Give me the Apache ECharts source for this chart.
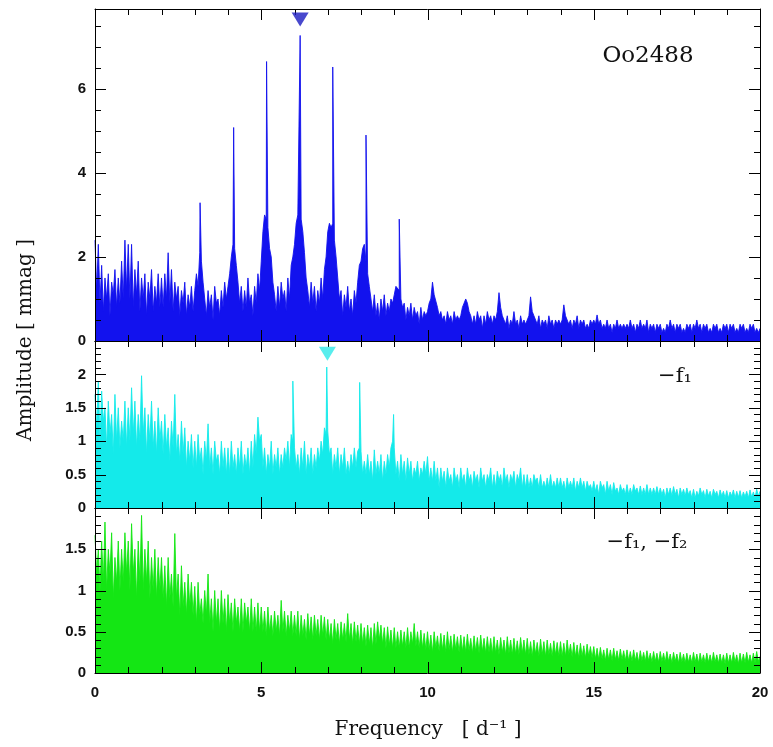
<!DOCTYPE html>
<html>
<head>
<meta charset="utf-8">
<script src="https://cdn.jsdelivr.net/npm/echarts@6.0.0/dist/echarts.min.js"></script>
<style>
html,body{margin:0;padding:0;background:#fff;}
#chart{width:773px;height:747px;}
</style>
</head>
<body>
<div id="chart"></div>
<script>
const topAmp = [
2.4,1.2,2.3,0.9,1.8,0.7,1.5,1.0,1.6,0.6,1.4,1.1,1.7,0.8,1.5,0.9,1.9,1.0,2.4,1.2,
2.3,1.0,2.3,0.8,1.7,1.1,1.9,0.7,1.5,1.0,1.6,0.6,1.4,1.0,1.7,0.7,1.3,0.9,1.6,0.8,
1.5,0.8,1.6,1.0,2.1,0.9,1.7,0.7,1.4,1.0,1.3,0.6,1.2,0.9,1.4,0.6,1.1,0.8,1.3,0.7,
1.2,1.6,1.3,2.1,1.9,1.4,1.0,0.6,1.2,0.8,1.1,0.5,1.3,0.9,1.0,0.6,1.2,0.8,1.4,1.0,
1.3,1.6,2.0,2.3,2.2,1.8,1.4,0.9,1.3,0.7,1.2,0.8,1.5,0.9,1.1,0.6,1.3,0.9,1.6,1.2,
1.9,2.6,3.0,2.9,2.7,2.2,2.0,1.4,1.1,0.7,1.3,0.8,1.4,1.0,1.2,0.7,1.5,1.0,1.8,2.0,
2.3,2.8,3.0,3.0,2.9,2.6,2.1,1.5,1.2,0.8,1.4,0.9,1.3,0.7,1.2,0.9,1.5,1.0,1.7,2.0,
2.6,2.8,2.7,2.8,2.4,2.0,1.5,1.0,1.2,0.6,1.1,0.8,1.3,0.7,1.0,0.6,1.2,0.9,1.4,1.8,
1.9,2.2,2.3,1.9,1.6,1.3,1.0,0.7,1.1,0.6,0.9,0.5,1.0,0.7,1.1,0.6,0.9,0.7,1.0,0.9,
1.1,1.3,1.3,1.2,1.0,0.8,0.9,0.5,0.8,0.6,0.9,0.5,0.8,0.6,0.7,0.4,0.8,0.5,0.7,0.6,
0.7,0.9,1.0,1.4,1.1,1.1,0.8,0.6,0.7,0.5,0.6,0.4,0.7,0.5,0.6,0.4,0.7,0.5,0.6,0.5,
0.6,0.8,0.9,1.0,0.9,0.7,0.6,0.4,0.6,0.4,0.7,0.5,0.6,0.3,0.6,0.4,0.7,0.5,0.6,0.4,
0.6,0.5,0.7,1.15,0.8,0.6,0.5,0.4,0.6,0.3,0.5,0.4,0.7,0.4,0.5,0.3,0.6,0.4,0.5,0.4,
0.5,0.6,1.05,0.7,0.6,0.5,0.4,0.6,0.3,0.5,0.4,0.5,0.3,0.6,0.4,0.5,0.3,0.5,0.4,0.5,
0.4,0.5,0.86,0.6,0.5,0.4,0.5,0.3,0.5,0.4,0.6,0.3,0.5,0.4,0.5,0.3,0.4,0.3,0.5,0.4,
0.5,0.4,0.62,0.4,0.5,0.3,0.4,0.3,0.5,0.3,0.4,0.2,0.4,0.3,0.5,0.3,0.4,0.3,0.4,0.3,
0.4,0.3,0.5,0.3,0.4,0.2,0.4,0.3,0.5,0.3,0.4,0.3,0.5,0.2,0.4,0.3,0.4,0.2,0.4,0.3,
0.4,0.2,0.3,0.2,0.4,0.3,0.5,0.3,0.4,0.2,0.4,0.3,0.4,0.2,0.3,0.2,0.4,0.3,0.4,0.2,
0.4,0.3,0.5,0.3,0.4,0.2,0.4,0.3,0.4,0.2,0.3,0.2,0.4,0.3,0.4,0.2,0.3,0.2,0.4,0.3,
0.4,0.2,0.4,0.3,0.4,0.2,0.3,0.2,0.4,0.3,0.4,0.2,0.3,0.2,0.4,0.3,0.4,0.2,0.3,0.2,
0.3
];
const topPeakF = [3.16, 4.17, 5.16, 6.17, 7.15, 8.15, 9.15];
const topPeakA = [3.29, 5.08, 6.65, 7.27, 6.52, 4.90, 2.90];

const midAmp = [
1.7,1.2,1.9,1.0,1.75,1.3,1.5,0.9,1.6,1.1,1.4,0.8,1.7,1.0,1.5,0.9,1.3,1.0,1.6,0.9,
1.5,1.0,1.8,1.1,1.6,0.9,1.4,1.0,1.98,1.1,1.5,0.8,1.4,1.0,1.6,0.9,1.3,0.8,1.5,1.0,
1.3,0.8,1.4,0.9,1.2,0.7,1.3,0.9,1.7,0.8,1.1,0.7,1.3,0.8,1.2,0.6,1.0,0.7,1.1,0.6,
1.0,0.6,1.1,0.7,0.9,0.5,1.0,0.7,1.26,0.6,0.9,0.5,1.0,0.7,0.8,0.5,1.0,0.6,0.9,0.5,
0.9,0.5,1.0,0.6,0.8,0.5,0.9,0.6,1.0,0.5,0.8,0.6,0.9,0.5,1.0,0.6,1.1,0.8,1.36,1.0,
1.1,0.6,0.9,0.5,0.8,0.6,1.0,0.5,0.8,0.6,0.9,0.5,0.8,0.6,0.9,0.7,1.0,0.6,1.1,1.0,
0.9,0.6,0.8,0.5,0.9,0.6,1.0,0.5,0.8,0.6,0.9,0.5,0.8,0.6,0.9,0.7,1.0,0.8,1.2,1.1,
1.15,0.8,0.9,0.5,0.8,0.6,0.9,0.5,0.8,0.6,0.9,0.5,0.7,0.5,0.8,0.6,0.9,0.6,0.85,0.9,
0.85,0.5,0.7,0.5,0.8,0.5,0.7,0.4,0.87,0.5,0.7,0.5,0.8,0.4,0.7,0.5,0.8,0.6,0.9,1.0,
0.9,0.5,0.7,0.4,0.8,0.5,0.7,0.4,0.75,0.5,0.7,0.4,0.6,0.5,0.7,0.4,0.6,0.5,0.7,0.5,
0.77,0.4,0.6,0.4,0.7,0.4,0.6,0.3,0.6,0.4,0.55,0.3,0.6,0.4,0.5,0.3,0.6,0.4,0.5,0.3,
0.6,0.4,0.5,0.3,0.6,0.4,0.5,0.3,0.55,0.4,0.5,0.3,0.6,0.4,0.5,0.3,0.5,0.4,0.6,0.3,
0.5,0.3,0.55,0.4,0.5,0.3,0.6,0.4,0.5,0.3,0.5,0.4,0.55,0.3,0.5,0.4,0.6,0.3,0.5,0.3,
0.5,0.3,0.45,0.3,0.5,0.4,0.45,0.3,0.5,0.3,0.4,0.3,0.45,0.3,0.5,0.3,0.4,0.3,0.45,0.3,
0.45,0.3,0.4,0.25,0.45,0.3,0.4,0.3,0.45,0.25,0.4,0.3,0.45,0.3,0.4,0.25,0.4,0.3,0.35,0.25,
0.4,0.25,0.35,0.2,0.4,0.3,0.35,0.2,0.4,0.25,0.35,0.2,0.38,0.25,0.3,0.2,0.35,0.25,0.3,0.2,
0.35,0.2,0.3,0.2,0.35,0.25,0.3,0.2,0.33,0.2,0.3,0.2,0.35,0.2,0.3,0.2,0.3,0.2,0.32,0.2,
0.3,0.2,0.28,0.15,0.3,0.2,0.3,0.18,0.32,0.2,0.28,0.15,0.3,0.2,0.28,0.18,0.3,0.2,0.26,0.15,
0.28,0.15,0.25,0.18,0.3,0.2,0.26,0.15,0.28,0.18,0.25,0.15,0.28,0.2,0.25,0.15,0.27,0.18,0.25,0.15,
0.26,0.15,0.24,0.18,0.27,0.15,0.25,0.16,0.26,0.15,0.24,0.17,0.25,0.15,0.27,0.16,0.24,0.15,0.28,0.18,
0.25
];
const midPeakF = [5.95, 6.97, 7.96, 8.98];
const midPeakA = [1.90, 2.11, 1.88, 1.40];

const botAmp = [
1.67,1.2,1.5,1.0,1.6,1.1,1.83,1.0,1.5,1.2,1.7,0.9,1.4,1.1,1.6,1.0,1.5,1.1,1.7,1.2,
1.6,1.0,1.81,1.2,1.5,0.9,1.6,1.1,1.91,1.0,1.5,1.1,1.6,0.9,1.4,1.0,1.5,0.9,1.4,1.0,
1.4,0.9,1.3,0.8,1.4,0.9,1.2,0.8,1.69,0.9,1.2,0.7,1.3,0.8,1.1,0.7,1.2,0.8,1.1,0.7,
1.05,0.6,1.1,0.7,0.9,0.6,1.0,0.7,1.2,0.6,0.9,0.5,1.0,0.6,0.9,0.5,1.0,0.6,0.9,0.5,
0.95,0.6,0.85,0.5,0.9,0.6,0.8,0.5,0.9,0.5,0.85,0.6,0.8,0.5,0.9,0.5,0.8,0.5,0.85,0.5,
0.8,0.5,0.75,0.45,0.8,0.5,0.7,0.45,0.75,0.5,0.7,0.45,0.88,0.5,0.75,0.45,0.7,0.5,0.75,0.45,
0.7,0.45,0.75,0.4,0.7,0.45,0.65,0.4,0.72,0.45,0.68,0.4,0.7,0.45,0.65,0.4,0.7,0.45,0.68,0.4,
0.65,0.4,0.6,0.35,0.65,0.4,0.6,0.35,0.62,0.4,0.6,0.38,0.72,0.4,0.6,0.35,0.62,0.38,0.58,0.35,
0.6,0.35,0.55,0.32,0.58,0.35,0.55,0.3,0.6,0.35,0.62,0.4,0.58,0.35,0.55,0.3,0.56,0.33,0.52,0.3,
0.55,0.3,0.5,0.3,0.52,0.32,0.5,0.3,0.55,0.3,0.5,0.35,0.6,0.32,0.5,0.3,0.52,0.3,0.48,0.28,
0.5,0.28,0.46,0.25,0.5,0.3,0.45,0.26,0.48,0.28,0.46,0.25,0.5,0.28,0.45,0.25,0.47,0.28,0.44,0.25,
0.46,0.26,0.44,0.25,0.47,0.27,0.42,0.24,0.45,0.26,0.43,0.24,0.46,0.26,0.42,0.24,0.44,0.25,0.42,0.23,
0.44,0.24,0.4,0.22,0.43,0.25,0.4,0.22,0.44,0.24,0.4,0.22,0.42,0.23,0.39,0.22,0.43,0.24,0.4,0.22,
0.42,0.22,0.38,0.2,0.4,0.23,0.37,0.2,0.41,0.22,0.38,0.2,0.4,0.22,0.36,0.2,0.39,0.22,0.37,0.2,
0.38,0.2,0.36,0.2,0.4,0.22,0.35,0.19,0.37,0.2,0.34,0.18,0.36,0.2,0.33,0.18,0.35,0.2,0.32,0.18,
0.32,0.17,0.3,0.16,0.31,0.17,0.28,0.15,0.3,0.16,0.28,0.15,0.3,0.16,0.27,0.15,0.29,0.16,0.27,0.15,
0.28,0.15,0.26,0.14,0.28,0.15,0.25,0.13,0.27,0.15,0.25,0.14,0.27,0.15,0.24,0.13,0.26,0.14,0.24,0.13,
0.26,0.14,0.24,0.13,0.26,0.14,0.23,0.12,0.25,0.14,0.23,0.12,0.25,0.13,0.23,0.12,0.24,0.13,0.22,0.12,
0.25,0.13,0.23,0.12,0.24,0.13,0.22,0.12,0.24,0.13,0.22,0.12,0.25,0.13,0.22,0.12,0.23,0.12,0.22,0.11,
0.24,0.12,0.22,0.12,0.25,0.13,0.22,0.11,0.24,0.12,0.23,0.12,0.25,0.13,0.22,0.12,0.24,0.12,0.26,0.14,
0.2
];
const botPeakF = [];
const botPeakA = [];

// Markers for the removed frequencies
const markerF = [6.17, 6.99];
const markerA = [7.65, 2.31];

// Axis settings
const freqRange = [0, 20];
const xInterval = 5;
const xMinorStep = 1;
const yMax = [7.9, 2.5, 2.0];
const yInterval = [2, 0.5, 0.5];
const yMinorSplit = [4, 5, 5];
const panelLabels = ['Oo2488', '−f₁', '−f₁, −f₂'];
const colors = ['#1212ee', '#14eaea', '#14e614'];

function build(amp, pf, pa) {
  const n = amp.length;
  const span = freqRange[1] - freqRange[0];
  const pts = amp.map((v, i) => [freqRange[0] + i * span / (n - 1), v]);
  pf.forEach((f, k) => pts.push([f, pa[k]]));
  pts.sort((a, b) => a[0] - b[0]);
  return pts;
}

// Tick positions (in axis units) for each panel: [dimension, value, isMajor]
function tickItems(i) {
  const items = [];
  const nx = Math.round((freqRange[1] - freqRange[0]) / xMinorStep);
  for (let k = 0; k <= nx; k++) {
    const v = freqRange[0] + k * xMinorStep;
    items.push([0, v, Math.abs(v / xInterval - Math.round(v / xInterval)) < 1e-6 ? 1 : 0]);
  }
  const ms = yInterval[i] / yMinorSplit[i];
  const ny = Math.floor(yMax[i] / ms + 1e-6);
  for (let k = 0; k <= ny; k++) {
    const v = +(k * ms).toFixed(4);
    items.push([1, v, Math.abs(v / yInterval[i] - Math.round(v / yInterval[i])) < 1e-6 ? 1 : 0]);
  }
  return items;
}

function tickRenderer(i) {
  return function (params, api) {
    const dim = api.value(0), v = api.value(1), major = api.value(2);
    const len = major ? 11 : 6;
    const st = {stroke: '#000', lineWidth: 1};
    if (dim === 0) {
      const pb = api.coord([v, 0]);
      const pt = api.coord([v, yMax[i]]);
      const x = Math.round(pb[0]) + 0.5;
      return {type: 'group', children: [
        {type: 'line', shape: {x1: x, y1: pb[1], x2: x, y2: pb[1] - len}, style: st},
        {type: 'line', shape: {x1: x, y1: pt[1], x2: x, y2: pt[1] + len}, style: st}
      ]};
    }
    const pl = api.coord([freqRange[0], v]);
    const pr = api.coord([freqRange[1], v]);
    const y = Math.round(pl[1]) + 0.5;
    return {type: 'group', children: [
      {type: 'line', shape: {x1: pl[0], y1: y, x2: pl[0] + len, y2: y}, style: st},
      {type: 'line', shape: {x1: pr[0], y1: y, x2: pr[0] - len, y2: y}, style: st}
    ]};
  };
}

const grids = [
  {left: 95, right: 13, top: 9, height: 332},
  {left: 95, right: 13, top: 341, height: 167},
  {left: 95, right: 13, top: 508, height: 165}
];

function labelFont() {
  return {fontFamily: 'Liberation Sans', fontSize: 15, color: '#111', fontWeight: 'bold'};
}

const xAxes = [], yAxes = [];
for (let i = 0; i < 3; i++) {
  ['bottom', 'top'].forEach(pos => {
    xAxes.push({
      type: 'value', gridIndex: i, position: pos, min: freqRange[0], max: freqRange[1], interval: xInterval, z: 4,
      axisLine: {show: true, onZero: false, lineStyle: {color: '#000', width: 1}},
      axisTick: {show: false},
      minorTick: {show: false},
      splitLine: {show: false},
      axisLabel: Object.assign({show: i === 2 && pos === 'bottom', margin: 12}, labelFont())
    });
  });
  ['left', 'right'].forEach(pos => {
    yAxes.push({
      type: 'value', gridIndex: i, position: pos, min: 0, max: yMax[i], interval: yInterval[i], z: 4,
      axisLine: {show: true, onZero: false, lineStyle: {color: '#000', width: 1}},
      axisTick: {show: false},
      minorTick: {show: false},
      splitLine: {show: false},
      axisLabel: Object.assign({show: pos === 'left', margin: 9, showMaxLabel: false}, labelFont())
    });
  });
}

const ampSets = [[topAmp, topPeakF, topPeakA], [midAmp, midPeakF, midPeakA], [botAmp, botPeakF, botPeakA]];
const series = ampSets.map((s, i) => ({
  type: 'line', xAxisIndex: i * 2, yAxisIndex: i * 2,
  data: build(s[0], s[1], s[2]),
  showSymbol: false, symbol: 'none',
  lineStyle: {color: colors[i], width: 0.9},
  areaStyle: {color: colors[i], opacity: 1},
  silent: true, z: 2
}));
for (let i = 0; i < 3; i++) {
  series.push({
    type: 'custom', xAxisIndex: i * 2, yAxisIndex: i * 2,
    data: tickItems(i), renderItem: tickRenderer(i),
    clip: false, silent: true, z: 3
  });
}
series.push({
  type: 'scatter', xAxisIndex: 0, yAxisIndex: 0,
  data: [[markerF[0], markerA[0]]],
  symbol: 'triangle', symbolRotate: 180, symbolSize: [17, 14],
  itemStyle: {color: '#1a1ac0'}, z: 5, silent: true
});
series.push({
  type: 'scatter', xAxisIndex: 2, yAxisIndex: 2,
  data: [[markerF[1], markerA[1]]],
  symbol: 'triangle', symbolRotate: 180, symbolSize: [17, 14],
  itemStyle: {color: '#2ee8e8'}, z: 5, silent: true
});

const serif = 'DejaVu Serif';
const chart = echarts.init(document.getElementById('chart'), null, {renderer: 'canvas'});
chart.setOption({
  animation: false,
  backgroundColor: '#fff',
  grid: grids,
  xAxis: xAxes,
  yAxis: yAxes,
  series: series,
  graphic: [
    {type: 'text', x: 648, y: 56, z: 10, style: {text: panelLabels[0], fontFamily: serif, fontSize: 23, fill: '#111', align: 'center', verticalAlign: 'middle'}},
    {type: 'text', x: 675, y: 377, z: 10, style: {text: panelLabels[1], fontFamily: serif, fontSize: 21, fill: '#111', align: 'center', verticalAlign: 'middle'}},
    {type: 'text', x: 647, y: 543, z: 10, style: {text: panelLabels[2], fontFamily: serif, fontSize: 21, fill: '#111', align: 'center', verticalAlign: 'middle'}},
    {type: 'text', x: 428, y: 730, z: 10, style: {text: 'Frequency   [ d⁻¹ ]', fontFamily: serif, fontSize: 20, fill: '#111', align: 'center', verticalAlign: 'middle'}},
    {type: 'text', x: 26, y: 340, rotation: Math.PI / 2, z: 10, style: {text: 'Amplitude [ mmag ]', fontFamily: serif, fontSize: 20, fill: '#111', align: 'center', verticalAlign: 'middle'}}
  ]
});
</script>
</body>
</html>
